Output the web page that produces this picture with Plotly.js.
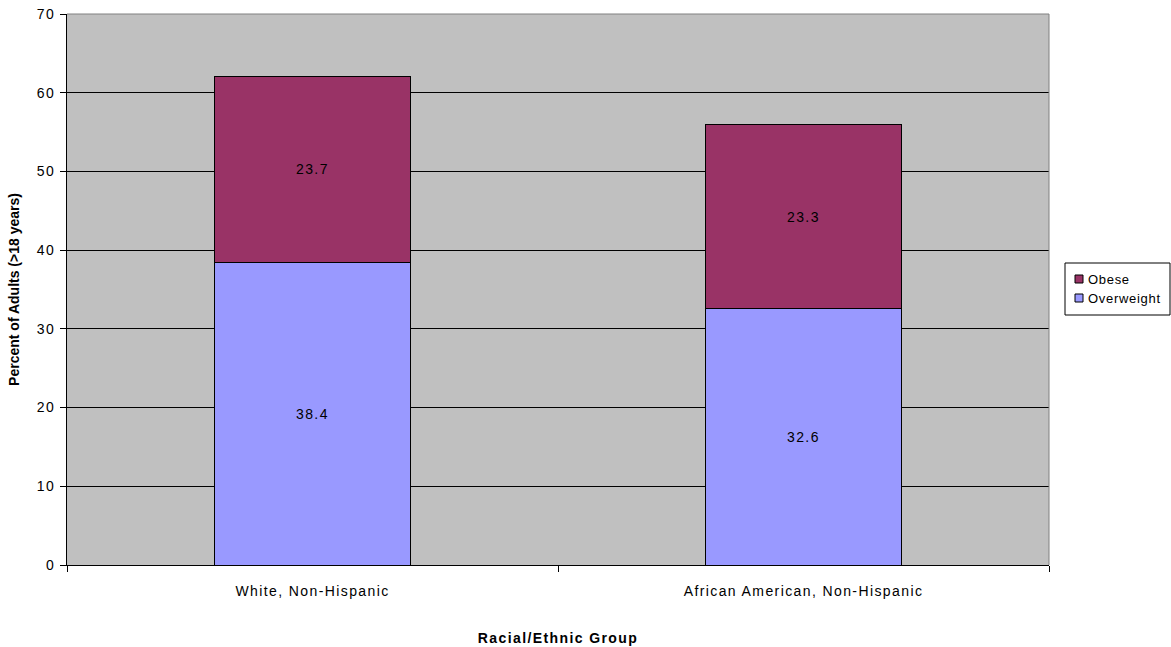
<!DOCTYPE html>
<html><head><meta charset="utf-8">
<script src="https://cdn.plot.ly/plotly-3.0.1.min.js"></script>
<style>
html,body{margin:0;padding:0;background:#fff}
#c{width:1171px;height:647px}
#c .xtick text, #c .g-xtitle text, #c .bartext, #c .ytick text {letter-spacing:1.4px}
#c .annotation-text {letter-spacing:0.7px}
</style>
</head><body><div id="c"></div>
<script>
const categories = ["White, Non-Hispanic", "African American, Non-Hispanic"];
const overweight = [38.4, 32.6];
const obese = [23.7, 23.3];
const yTicks = [0, 10, 20, 30, 40, 50, 60, 70];
const seriesNames = ["Obese", "Overweight"];
const seriesColors = ["#993366", "#9999FF"];

const FF = "Liberation Sans, Arial, sans-serif";
const txt = (size, bold) => ({family: FF, size: size, color: "#000", weight: bold ? "bold" : "normal"});

const traces = [
  {type: "bar", name: seriesNames[1], x: categories, y: overweight,
   text: overweight.map(v => v.toFixed(1)), textposition: "inside", insidetextanchor: "middle",
   textfont: txt(14), marker: {color: seriesColors[1], line: {color: "#000", width: 1}}, width: 0.4,
   hoverinfo: "none", showlegend: false},
  {type: "bar", name: seriesNames[0], x: categories, y: obese,
   text: obese.map(v => v.toFixed(1)), textposition: "inside", insidetextanchor: "middle",
   textfont: txt(14), marker: {color: seriesColors[0], line: {color: "#000", width: 1}}, width: 0.4,
   hoverinfo: "none", showlegend: false}
];

// Plot area geometry (pixels) used to position the hand-drawn legend box
const W = 1171, H = 647, L = 67, R = 122, T = 14, B = 82;
const pw = W - L - R, ph = H - T - B;
const px = x => (x - L) / pw;
const py = y => (H - B - y) / ph;

const shapes = [
  {type: "line", xref: "paper", yref: "paper", x0: 0, x1: 1, y0: 1, y1: 1, line: {color: "#808080", width: 1}},
  {type: "line", xref: "paper", yref: "paper", x0: 1, x1: 1, y0: 0, y1: 1, line: {color: "#808080", width: 1}},
  {type: "rect", xref: "paper", yref: "paper", x0: px(1065), x1: px(1170), y0: py(315), y1: py(263),
   line: {color: "#000", width: 1}, fillcolor: "#fff"}
];
const annotations = [];
seriesNames.forEach((n, i) => {
  const cy = 279 + i * 19;
  shapes.push({type: "rect", xref: "paper", yref: "paper", x0: px(1075), x1: px(1083), y0: py(cy + 4), y1: py(cy - 4),
    line: {color: "#000", width: 1}, fillcolor: seriesColors[i]});
  annotations.push({xref: "paper", yref: "paper", x: px(1087), y: py(cy), xanchor: "left", yanchor: "middle",
    width: 80, align: "left", text: n, showarrow: false, font: txt(13), borderpad: 0});
});

const layout = {
  width: W, height: H,
  margin: {l: L, r: R, t: T, b: B},
  barmode: "stack",
  paper_bgcolor: "#fff", plot_bgcolor: "#C0C0C0",
  font: txt(14),
  showlegend: false,
  xaxis: {type: "category", tickson: "boundaries", ticks: "outside", ticklen: 6, tickcolor: "#000",
    showline: true, linecolor: "#000", linewidth: 1, showgrid: false,
    tickfont: txt(14), ticklabelstandoff: 13,
    title: {text: "Racial/Ethnic Group", font: txt(14, true), standoff: 35}},
  yaxis: {range: [0, 70], tickvals: yTicks, ticks: "outside", ticklen: 6, tickcolor: "#000",
    showline: true, linecolor: "#000", linewidth: 1, showgrid: true, gridcolor: "#000", gridwidth: 1,
    zeroline: false, tickfont: txt(14), ticklabelstandoff: 2,
    title: {text: "Percent of Adults (>18 years)", font: txt(14, true), standoff: 16}},
  shapes: shapes,
  annotations: annotations
};
Plotly.newPlot("c", traces, layout, {displayModeBar: false, staticPlot: true});
</script></body></html>
